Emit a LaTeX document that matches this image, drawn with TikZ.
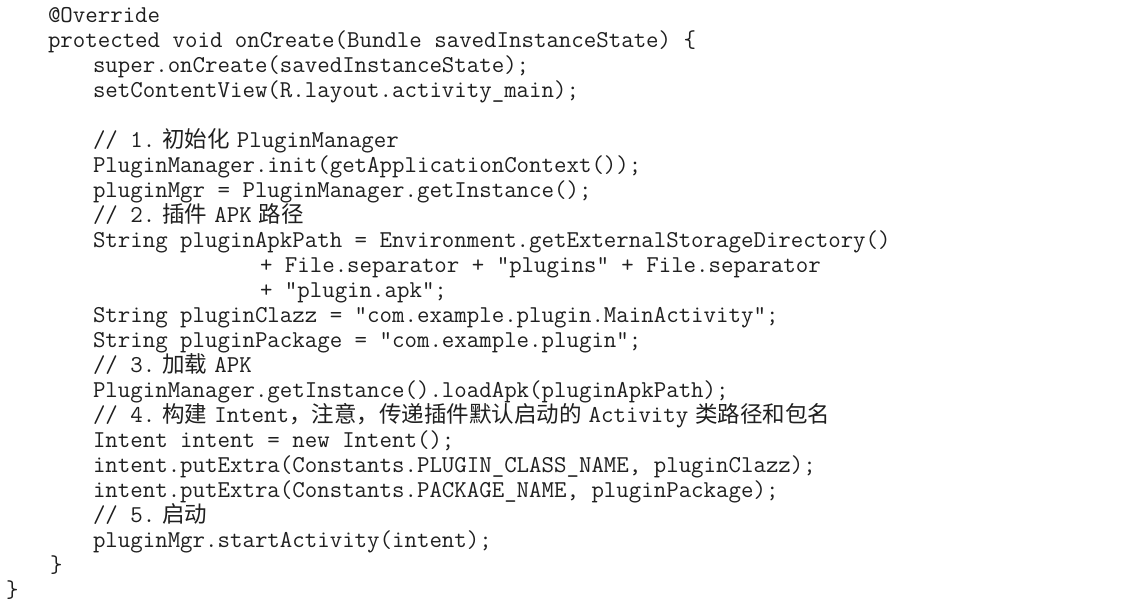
\documentclass[tikz,border=0pt]{standalone}
\usepackage{fontspec}
\newfontfamily\cjk[Scale=0.93]{Noto Sans CJK SC}
\newcommand{\codefont}{\ttfamily\fontsize{24.2}{25}\selectfont}
\newcommand{\cg}{\hspace{7pt}}
\begin{document}
\begin{tikzpicture}[x=1pt,y=-1pt,
  code/.style={anchor=base west, inner sep=0pt, outer sep=0pt, font=\codefont, text=black!88}]
\useasboundingbox[fill=white] (0,0) rectangle (1122,606);
\def\bl{6}
\node[code] (l0)  at (48,16+\bl)  {@Override};
\node[code] (l1)  at (48,41+\bl)  {protected void onCreate(Bundle savedInstanceState) \{};
\node[code] (l2)  at (93,66+\bl)  {super.onCreate(savedInstanceState);};
\node[code] (l3)  at (93,91+\bl)  {setContentView(R.layout.activity\_main);};
\node[code] (l5)  at (93,141+\bl) {// 1.\cg{\cjk 初始化}\cg PluginManager};
\node[code] (l6)  at (93,166+\bl) {PluginManager.init(getApplicationContext());};
\node[code] (l7)  at (93,191+\bl) {pluginMgr = PluginManager.getInstance();};
\node[code] (l8)  at (93,216+\bl) {// 2.\cg{\cjk 插件}\cg APK\cg{\cjk 路径}};
\node[code] (l9)  at (93,241+\bl) {String pluginApkPath = Environment.getExternalStorageDirectory()};
\node[code] (l10) at (260,266+\bl) {+ File.separator + "plugins" + File.separator};
\node[code] (l11) at (260,291+\bl) {+ "plugin.apk";};
\node[code] (l12) at (93,316+\bl) {String pluginClazz = "com.example.plugin.MainActivity";};
\node[code] (l13) at (93,341+\bl) {String pluginPackage = "com.example.plugin";};
\node[code] (l14) at (93,366+\bl) {// 3.\cg{\cjk 加载}\cg APK};
\node[code] (l15) at (93,391+\bl) {PluginManager.getInstance().loadApk(pluginApkPath);};
\node[code] (l16) at (93,416+\bl) {// 4.\cg{\cjk 构建}\cg Intent{\cjk ，注意，传递插件默认启动的}\cg Activity\cg{\cjk 类路径和包名}};
\node[code] (l17) at (93,441+\bl) {Intent intent = new Intent();};
\node[code] (l18) at (93,466+\bl) {intent.putExtra(Constants.PLUGIN\_CLASS\_NAME, pluginClazz);};
\node[code] (l19) at (93,491+\bl) {intent.putExtra(Constants.PACKAGE\_NAME, pluginPackage);};
\node[code] (l20) at (93,516+\bl) {// 5.\cg{\cjk 启动}};
\node[code] (l21) at (93,541+\bl) {pluginMgr.startActivity(intent);};
\node[code] (l22) at (50,566+\bl) {\}};
\node[code] (l23) at (6,591+\bl)  {\}};
\end{tikzpicture}
\end{document}
